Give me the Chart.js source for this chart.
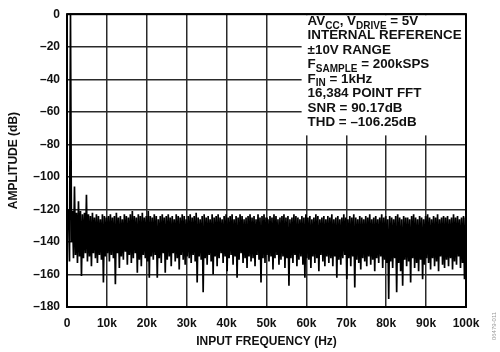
<!DOCTYPE html>
<html>
<head>
<meta charset="utf-8">
<script src="https://cdn.jsdelivr.net/npm/chart.js@4/dist/chart.umd.min.js"></script>
<style>
  html, body { margin: 0; padding: 0; background: #fff; }
  #wrap { width: 500px; height: 352px; position: relative; }
</style>
</head>
<body>
<div id="wrap"><canvas id="fft"></canvas></div>
<script>
// ── FFT data (dB per 0.5 kHz bin, 0.5k … 100k) ─────────────────────────────
const BIN_KHZ = 0.5;

// upper edge of each bin (tones at 1k, 2k, 3k, 5k included)
const noiseTop = [
  -120,    0, -121, -106, -122, -115, -121, -123, -122, -111,
  -123, -124, -122, -125, -123, -124, -126, -123, -124, -125,
  -124, -123, -125, -124, -122, -125, -124, -126, -123, -124,
  -125, -123, -121, -124, -125, -123, -124, -122, -125, -124,
  -121, -124, -125, -123, -124, -126, -124, -123, -125, -124,
  -123, -125, -124, -126, -123, -124, -125, -123, -124, -126,
  -124, -123, -125, -124, -122, -125, -126, -124, -123, -125,
  -124, -126, -123, -125, -124, -123, -125, -126, -124, -123,
  -125, -124, -123, -126, -124, -125, -123, -124, -126, -125,
  -124, -123, -125, -124, -126, -123, -125, -124, -123, -125,
  -126, -124, -125, -123, -124, -126, -125, -124, -123, -125,
  -124, -126, -125, -123, -124, -125, -126, -124, -125, -123,
  -125, -124, -126, -125, -123, -124, -126, -125, -124, -126,
  -124, -125, -123, -126, -125, -124, -126, -125, -123, -125,
  -126, -124, -125, -123, -125, -126, -124, -125, -126, -124,
  -125, -123, -126, -125, -124, -126, -125, -123, -125, -124,
  -126, -124, -125, -126, -124, -123, -125, -126, -124, -125,
  -125, -126, -124, -123, -125, -126, -124, -125, -126, -124,
  -123, -125, -126, -124, -125, -123, -126, -125, -124, -125,
  -124, -126, -125, -123, -125, -124, -126, -125, -124, -125,
];

// lower edge of each bin (the deep nulls)
const noiseBottom = [
  -152, -140, -150, -148, -153, -149, -161, -150, -147, -152,
  -149, -155, -147, -150, -153, -148, -151, -165, -149, -147,
  -152, -148, -150, -166, -147, -156, -149, -151, -146, -154,
  -148, -153, -150, -147, -159, -151, -155, -148, -150, -152,
  -162, -149, -151, -148, -162, -150, -153, -147, -159, -151,
  -149, -155, -147, -152, -150, -157, -148, -151, -154, -149,
  -150, -153, -148, -152, -165, -149, -151, -171, -150, -154,
  -148, -152, -160, -149, -155, -150, -147, -153, -149, -158,
  -150, -148, -154, -149, -162, -151, -147, -153, -150, -156,
  -149, -152, -150, -155, -148, -151, -165, -150, -153, -148,
  -152, -149, -157, -150, -148, -154, -151, -149, -156, -150,
  -167, -150, -153, -148, -155, -151, -149, -154, -162, -150,
  -151, -156, -149, -153, -150, -158, -148, -152, -155, -149,
  -153, -150, -155, -149, -162, -151, -154, -150, -148, -163,
  -150, -155, -149, -168, -151, -153, -157, -150, -152, -155,
  -149, -154, -151, -158, -150, -153, -149, -156, -151, -153,
  -175, -152, -156, -150, -171, -153, -158, -167, -151, -155,
  -152, -165, -150, -156, -153, -158, -151, -163, -154, -150,
  -153, -157, -150, -155, -152, -158, -149, -154, -156, -151,
  -155, -150, -157, -152, -154, -149, -156, -153, -163, -155,
];

const xTickLabels = ["0", "10k", "20k", "30k", "40k", "50k", "60k", "70k", "80k", "90k", "100k"];
const yTickLabels = ["–180", "–160", "–140", "–120", "–100", "–80", "–60", "–40", "–20", "0"];

// conditions box: [text, isSubscript] runs per line
const noteLines = [
  [["AV", 0], ["CC", 1], [", V", 0], ["DRIVE", 1], [" = 5V", 0]],
  [["INTERNAL REFERENCE", 0]],
  [["±10V RANGE", 0]],
  [["F", 0], ["SAMPLE", 1], [" = 200kSPS", 0]],
  [["F", 0], ["IN", 1], [" = 1kHz", 0]],
  [["16,384 POINT FFT", 0]],
  [["SNR = 90.17dB", 0]],
  [["THD = –106.25dB", 0]],
];

// zig-zag through each bin: top edge then bottom edge
const pts = [];
noiseTop.forEach((t, i) => {
  const f = (i + 1) * BIN_KHZ;
  pts.push({ x: f - 0.125, y: t });
  pts.push({ x: f + 0.125, y: noiseBottom[i] });
});

const FONT = "'Liberation Sans', Arial, sans-serif";
const GRID = "#2a2a2a";

const notePlugin = {
  id: "note",
  beforeDatasetsDraw(chart) {
    const { ctx, chartArea: a, scales: { x, y } } = chart;
    const bx = x.getPixelForValue(58.8), by = y.getPixelForValue(-74.5);
    ctx.save();
    ctx.fillStyle = "#fff";
    ctx.fillRect(bx, a.top + 1, a.right - 1 - bx, by - a.top - 1);
    ctx.fillStyle = "#111";
    ctx.textBaseline = "alphabetic";
    const x0 = x.getPixelForValue(60.3);
    noteLines.forEach((runs, li) => {
      let cx = x0;
      const base = 25 + li * 14.45;
      runs.forEach(([s, sub]) => {
        ctx.font = sub ? "bold 10px " + FONT : "bold 13.4px " + FONT;
        ctx.fillText(s, cx, sub ? base + 3.5 : base);
        cx += ctx.measureText(s).width;
      });
    });
    ctx.restore();
  },
  afterDraw(chart) {
    const { ctx, chartArea: a } = chart;
    ctx.save();
    ctx.strokeStyle = "#000";
    ctx.lineWidth = 2;
    ctx.strokeRect(a.left, a.top, a.right - a.left, a.bottom - a.top);
    // figure id on the right edge
    ctx.translate(494, 326);
    ctx.rotate(-Math.PI / 2);
    ctx.fillStyle = "#999";
    ctx.font = "6px " + FONT;
    ctx.textAlign = "center";
    ctx.textBaseline = "middle";
    ctx.fillText("06479-011", 0, 0);
    ctx.restore();
  },
};

new Chart(document.getElementById("fft"), {
  type: "line",
  data: {
    datasets: [{
      data: pts,
      borderColor: "#000",
      borderWidth: 1.7,
      pointRadius: 0,
      tension: 0,
      fill: false,
    }],
  },
  options: {
    responsive: true, maintainAspectRatio: false, animation: false,
    layout: { padding: { top: 10, right: 34, left: 0, bottom: 0 } },
    plugins: { legend: { display: false }, tooltip: { enabled: false } },
    scales: {
      x: {
        type: "linear", min: 0, max: 100,
        afterFit: s => { s.height = 45; },
        grid: { color: GRID, lineWidth: 1.5, drawTicks: false },
        border: { display: false },
        ticks: {
          stepSize: 10, padding: 9, color: "#111",
          font: { family: FONT, size: 12, weight: "bold" },
          callback: v => xTickLabels[Math.round(v / 10)],
        },
        title: {
          display: true, text: "INPUT FREQUENCY (Hz)", color: "#111",
          font: { family: FONT, size: 12, weight: "bold" }, padding: { top: 0, bottom: 3 },
        },
      },
      y: {
        type: "linear", min: -180, max: 0,
        afterFit: s => { s.width = 67; },
        grid: { color: GRID, lineWidth: 1.5, drawTicks: false },
        border: { display: false },
        ticks: {
          stepSize: 20, padding: 7, color: "#111",
          font: { family: FONT, size: 12, weight: "bold" },
          callback: v => yTickLabels[Math.round((v + 180) / 20)],
        },
        title: {
          display: true, text: "AMPLITUDE (dB)", color: "#111",
          font: { family: FONT, size: 12, weight: "bold" }, padding: { top: 6, bottom: 0 },
        },
      },
    },
  },
  plugins: [notePlugin],
});
</script>
</body>
</html>
